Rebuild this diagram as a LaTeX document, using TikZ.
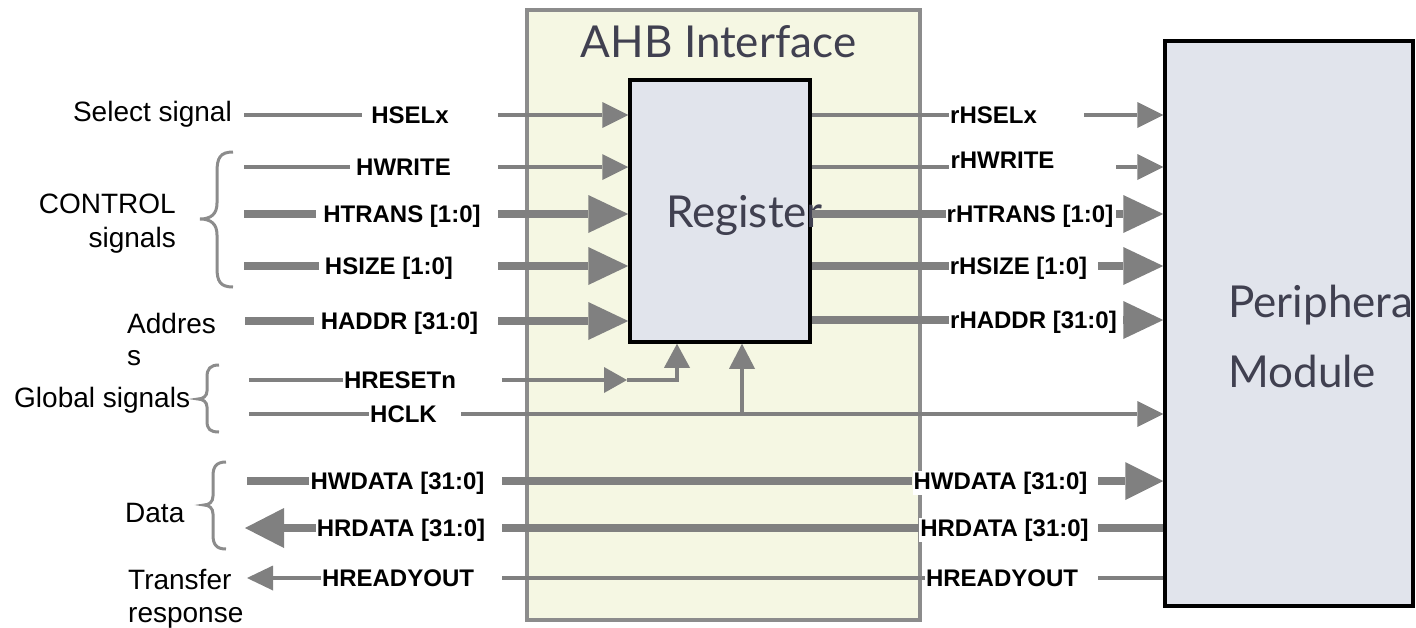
\documentclass[tikz,border=0pt]{standalone}
\usepackage{fontspec}
\setmainfont{Liberation Sans}
\newfontfamily\blockfont{Lato}
\usetikzlibrary{arrows.meta}
\definecolor{wiregray}{RGB}{128,128,128}
\definecolor{bracegray}{RGB}{140,140,140}
\definecolor{framegray}{RGB}{140,140,140}
\definecolor{ahbfill}{RGB}{245,247,227}
\definecolor{regfill}{RGB}{225,228,236}
\definecolor{titlegray}{RGB}{64,64,80}
\tikzset{
  wire/.style={draw=wiregray, line width=3.5pt},
  bus/.style={draw=wiregray, line width=8.5pt},
  tipS/.style={-{Triangle[length=26pt,width=26pt,line width=0pt]}},
  tipB/.style={-{Triangle[length=40pt,width=38pt,line width=0pt]}},
  sig/.style={font=\fontsize{24}{28}\selectfont\bfseries, fill=white, inner sep=1pt, anchor=base, yshift=-8.5pt},
  grp/.style={font=\fontsize{28}{34}\selectfont, inner sep=0pt},
  brace/.style={draw=bracegray, line width=3pt},
  block/.style={draw=black, line width=3.5pt, fill=regfill, inner sep=0pt},
  blocktext/.style={font=\blockfont\fontsize{44}{70}\selectfont, text=titlegray, inner sep=0pt},
}
\begin{document}
\begin{tikzpicture}[x=1pt,y=-1pt]
\useasboundingbox (0,0) rectangle (1416,627);
\clip (0,0) rectangle (1416,627);

% ---- blocks
\node[draw=framegray, line width=3.5pt, fill=ahbfill, minimum width=393pt, minimum height=610pt, inner sep=0pt] (ahb) at (723.5,315) {};
\node[blocktext, anchor=base] (ahbT) at (718.5,57) {AHB Interface};
\node[block, minimum width=180pt, minimum height=262pt] (reg) at (720,211) {};
\node[blocktext, anchor=base] (regT) at (744.5,227) {Register};
\node[block, minimum width=248pt, minimum height=565pt] (per) at (1289,323.5) {};
\node[blocktext, anchor=north west, align=left] (perT) at (1228,285) {Peripheral\\Module};

% ---- signal group captions (multi-line nodes sit on their last baseline)
\node[grp, anchor=base east] (gSel) at (232,121) {Select signal};
\node[grp, anchor=base east, align=right, font=\fontsize{28}{34}\selectfont] (gCtl) at (176,247) {CONTROL\\signals};
\node[grp, anchor=base west, align=left, font=\fontsize{28}{32}\selectfont] (gAdr) at (127,365) {Addres\\s};
\node[grp, anchor=base west] (gGlb) at (14,407) {Global signals};
\node[grp, anchor=base west] (gDat) at (125,522) {Data};
\node[grp, anchor=base west, align=left, font=\fontsize{28}{33}\selectfont] (gTrf) at (128,622) {Transfer\\response};

% ---- braces
\draw[brace] (233,152) .. controls (220,152) and (217,158) .. (217,172) -- (217,203)
  .. controls (217,214) and (211,219) .. (200,219) .. controls (211,219) and (217,224) .. (217,235)
  -- (217,268) .. controls (217,281) and (220,287) .. (233,287);
\draw[brace] (219,365) .. controls (210,365) and (207,369) .. (207,377) -- (207,391)
  .. controls (207,396) and (203,399) .. (198,399) .. controls (203,399) and (207,402) .. (207,407)
  -- (207,421) .. controls (207,429) and (210,432) .. (219,432);
\draw[brace] (226,462) .. controls (216,462) and (213,467) .. (213,476) -- (213,496)
  .. controls (213,502) and (209,505) .. (204,505) .. controls (209,505) and (213,508) .. (213,514)
  -- (213,535) .. controls (213,544) and (216,549) .. (226,549);

% ---- inputs of the register
\coordinate (sel0) at (244,115); \coordinate (sel1) at (362,115); \coordinate (sel2) at (498,115);
\coordinate (wr0) at (244,167);  \coordinate (wr1) at (350,167);  \coordinate (wr2) at (498,167);
\coordinate (tr0) at (244,214);  \coordinate (tr1) at (316,214);  \coordinate (tr2) at (498,214);
\coordinate (sz0) at (244,266);  \coordinate (sz1) at (319,266);  \coordinate (sz2) at (498,266);
\coordinate (ad0) at (245,321);  \coordinate (ad1) at (314,321);  \coordinate (ad2) at (498,321);
\draw[wire] (sel0) -- (sel1);  \draw[wire, tipS] (sel2) -- (sel2 -| reg.west);
\draw[wire] (wr0) -- (wr1);    \draw[wire, tipS] (wr2) -- (wr2 -| reg.west);
\draw[bus] (tr0) -- (tr1);     \draw[bus, tipB] (tr2) -- (tr2 -| reg.west);
\draw[bus] (sz0) -- (sz1);     \draw[bus, tipB] (sz2) -- (sz2 -| reg.west);
\draw[bus] (ad0) -- (ad1);     \draw[bus, tipB] (ad2) -- (ad2 -| reg.west);
\node[sig] (lSel) at (410,115) {HSELx};
\node[sig] (lWr) at (403.5,167) {HWRITE};
\node[sig] (lTr) at (402,214) {HTRANS [1:0]};
\node[sig] (lSz) at (389,266) {HSIZE [1:0]};
\node[sig] (lAd) at (399.5,321) {HADDR [31:0]};

% ---- registered outputs to the peripheral
\coordinate (rsel0) at (950,115);  \coordinate (rsel1) at (1084,115);
\coordinate (rwr0) at (949,167);   \coordinate (rwr1) at (1116,167);
\coordinate (rtr0) at (947,214);   \coordinate (rtr1) at (1116,214);
\coordinate (rsz0) at (950,266);   \coordinate (rsz1) at (1098,266);
\coordinate (rad0) at (950,320);   \coordinate (rad1) at (1123,320);
\draw[wire] (reg.east |- rsel0) -- (rsel0); \draw[wire, tipS] (rsel1) -- (rsel1 -| per.west);
\draw[wire] (reg.east |- rwr0) -- (rwr0);   \draw[wire, tipS] (rwr1) -- (rwr1 -| per.west);
\draw[bus] (reg.east |- rtr0) -- (rtr0);    \draw[bus, tipB] (rtr1) -- (rtr1 -| per.west);
\draw[bus] (reg.east |- rsz0) -- (rsz0);    \draw[bus, tipB] (rsz1) -- (rsz1 -| per.west);
\draw[bus] (reg.east |- rad0) -- (rad0);    \draw[bus, tipB] (rad1) -- (rad1 -| per.west);
\node[sig] (rSel) at (993.5,115) {rHSELx};
\node[sig] (rWr) at (1002.5,160) {rHWRITE};
\node[sig] (rTr) at (1030,214) {rHTRANS [1:0]};
\node[sig] (rSz) at (1018.5,266) {rHSIZE [1:0]};
\node[sig] (rAd) at (1033.5,320) {rHADDR [31:0]};

% ---- global signals
\coordinate (rst0) at (249,380); \coordinate (rst1) at (343,380); \coordinate (rst2) at (502,380);
\coordinate (rst3) at (627,380); \coordinate (rst4) at (677,380);
\draw[wire] (rst0) -- (rst1);
\draw[wire, -{Triangle[length=23pt,width=26pt,line width=0pt]}] (rst2) -- (rst3);
\draw[wire, -{Triangle[length=24pt,width=26pt,line width=0pt]}] (rst3) -- (rst4) -- (rst4 |- reg.south);
\node[sig] (lRst) at (400,380) {HRESETn};

\coordinate (clk0) at (249,414); \coordinate (clk1) at (370,414); \coordinate (clk2) at (461,414);
\coordinate (clk3) at (742,414);
\draw[wire] (clk0) -- (clk1);
\draw[wire, tipS] (clk2) -- (clk2 -| per.west);
\draw[wire, -{Triangle[length=25pt,width=26pt,line width=0pt]}] (clk3) -- (clk3 |- reg.south);
\node[sig] (lClk) at (403.5,414) {HCLK};

% ---- data and response
\coordinate (wd0) at (247,481); \coordinate (wd1) at (502,481); \coordinate (wd2) at (1098,481);
\node[sig] (lWd) at (397.5,481) {HWDATA [31:0]};
\node[sig] (rWd) at (1000.5,481) {HWDATA [31:0]};
\draw[bus] (wd0) -- (wd0 -| lWd.west);
\draw[bus] (wd1) -- (wd1 -| rWd.west);
\draw[bus, -{Triangle[length=38pt,width=38pt,line width=0pt]}] (wd2) -- (wd2 -| per.west);

\coordinate (rd0) at (245,528); \coordinate (rd1) at (502,528); \coordinate (rd2) at (1098,528);
\node[sig] (lRd) at (401,528) {HRDATA [31:0]};
\node[sig] (rRd) at (1004.5,528) {HRDATA [31:0]};
\draw[bus, -{Triangle[length=39pt,width=40pt,line width=0pt]}] (rd0 -| lRd.west) -- (rd0);
\draw[bus] (rd1 -| rRd.west) -- (rd1);
\draw[bus] (per.west |- rd2) -- (rd2);

\coordinate (ry0) at (247,578); \coordinate (ry1) at (502,578); \coordinate (ry2) at (1098,578);
\node[sig] (lRy) at (398,578) {HREADYOUT};
\node[sig] (rRy) at (1002,578) {HREADYOUT};
\draw[wire, -{Triangle[length=26pt,width=25pt,line width=0pt]}] (ry0 -| lRy.west) -- (ry0);
\draw[wire] (ry1 -| rRy.west) -- (ry1);
\draw[wire] (per.west |- ry2) -- (ry2);
\end{tikzpicture}
\end{document}
